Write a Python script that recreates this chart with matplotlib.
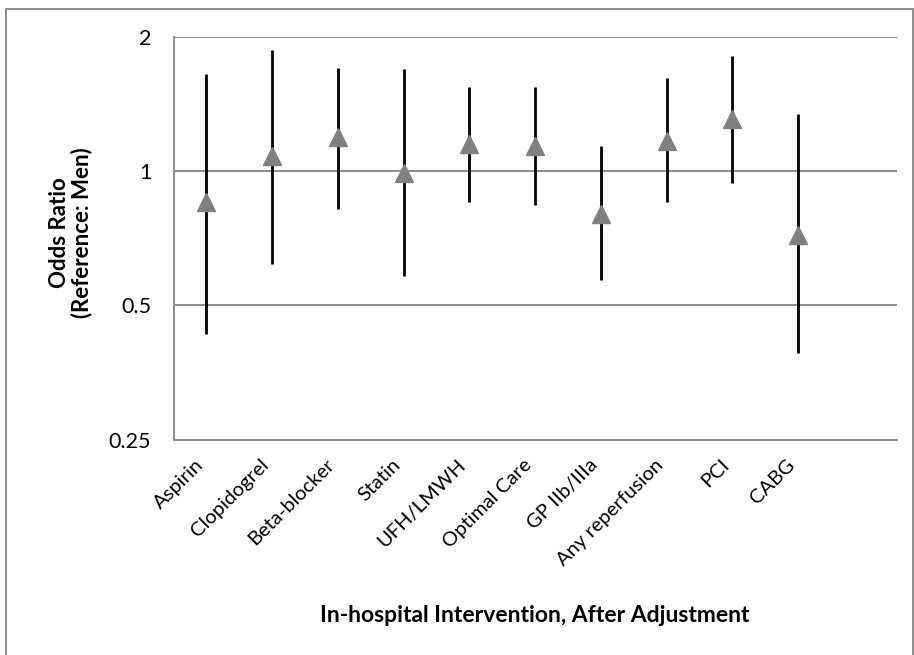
import matplotlib
matplotlib.use("Agg")
import matplotlib.pyplot as plt
from matplotlib.patches import Rectangle
import numpy as np

categories = ["Aspirin", "Clopidogrel", "Beta-blocker", "Statin", "UFH/LMWH",
              "Optimal Care", "GP IIb/IIIa", "Any reperfusion", "PCI", "CABG"]
odds_ratio = [0.85, 1.08, 1.19, 0.99, 1.15, 1.14, 0.80, 1.17, 1.31, 0.72]
ci_lower = [0.43, 0.62, 0.82, 0.58, 0.85, 0.84, 0.57, 0.85, 0.94, 0.39]
ci_upper = [1.65, 1.87, 1.70, 1.69, 1.54, 1.54, 1.14, 1.62, 1.81, 1.345]
y_ticks = [0.25, 0.5, 1, 2]
y_ticklabels = ["0.25", "0.5", "1", "2"]

plt.rcParams['font.family'] = ['Lato', 'DejaVu Sans']

W, H = 914, 655
fig = plt.figure(figsize=(W / 100, H / 100), dpi=100)
ax = fig.add_axes([173.5 / W, 1 - 439.5 / H, (896.7 - 173.5) / W, (439.5 - 36.7) / H])

x = np.arange(len(categories))
ax.set_yscale('log', base=2)
ax.set_ylim(0.25, 2)
ax.set_xlim(-0.5, 10.5)

grid_c = '#8c8c8c'
for t in y_ticks[1:]:
    ax.axhline(t, color=grid_c, lw=1.4, zorder=1)

ax.vlines(x, ci_lower, ci_upper, color='black', lw=2, zorder=2)
ax.plot(x, odds_ratio, linestyle='none', marker='^', markersize=13.5,
        color='#808080', zorder=3)

ax.set_yticks(y_ticks)
ax.set_yticklabels(y_ticklabels)
ax.yaxis.set_minor_locator(matplotlib.ticker.NullLocator())
ax.tick_params(axis='y', length=0, pad=16, labelsize=15.5)
ax.set_xticks(x)
ax.set_xticklabels(categories, rotation=45, ha='right', fontsize=14.5)
ax.tick_params(axis='x', length=0, pad=12)

for s in ['top', 'right']:
    ax.spines[s].set_visible(False)
for s in ['left', 'bottom']:
    ax.spines[s].set_color(grid_c)
    ax.spines[s].set_linewidth(1.4)

fig.text(535 / W, 1 - 615 / H, "In-hospital Intervention, After Adjustment",
         ha='center', va='center', fontsize=16.5, fontweight='bold')
fig.text(71 / W, 1 - 233 / H, "Odds Ratio\n(Reference: Men)", rotation=90,
         ha='center', va='center', fontsize=16, fontweight='bold',
         multialignment='center', linespacing=1.05)

fig.patches.append(Rectangle((6 / W, -0.1), (913 - 6) / W, 1.1 - 9 / H,
                             transform=fig.transFigure, fill=False,
                             edgecolor='#8c8c8c', lw=1.4))

fig.savefig("out.png", dpi=100)
